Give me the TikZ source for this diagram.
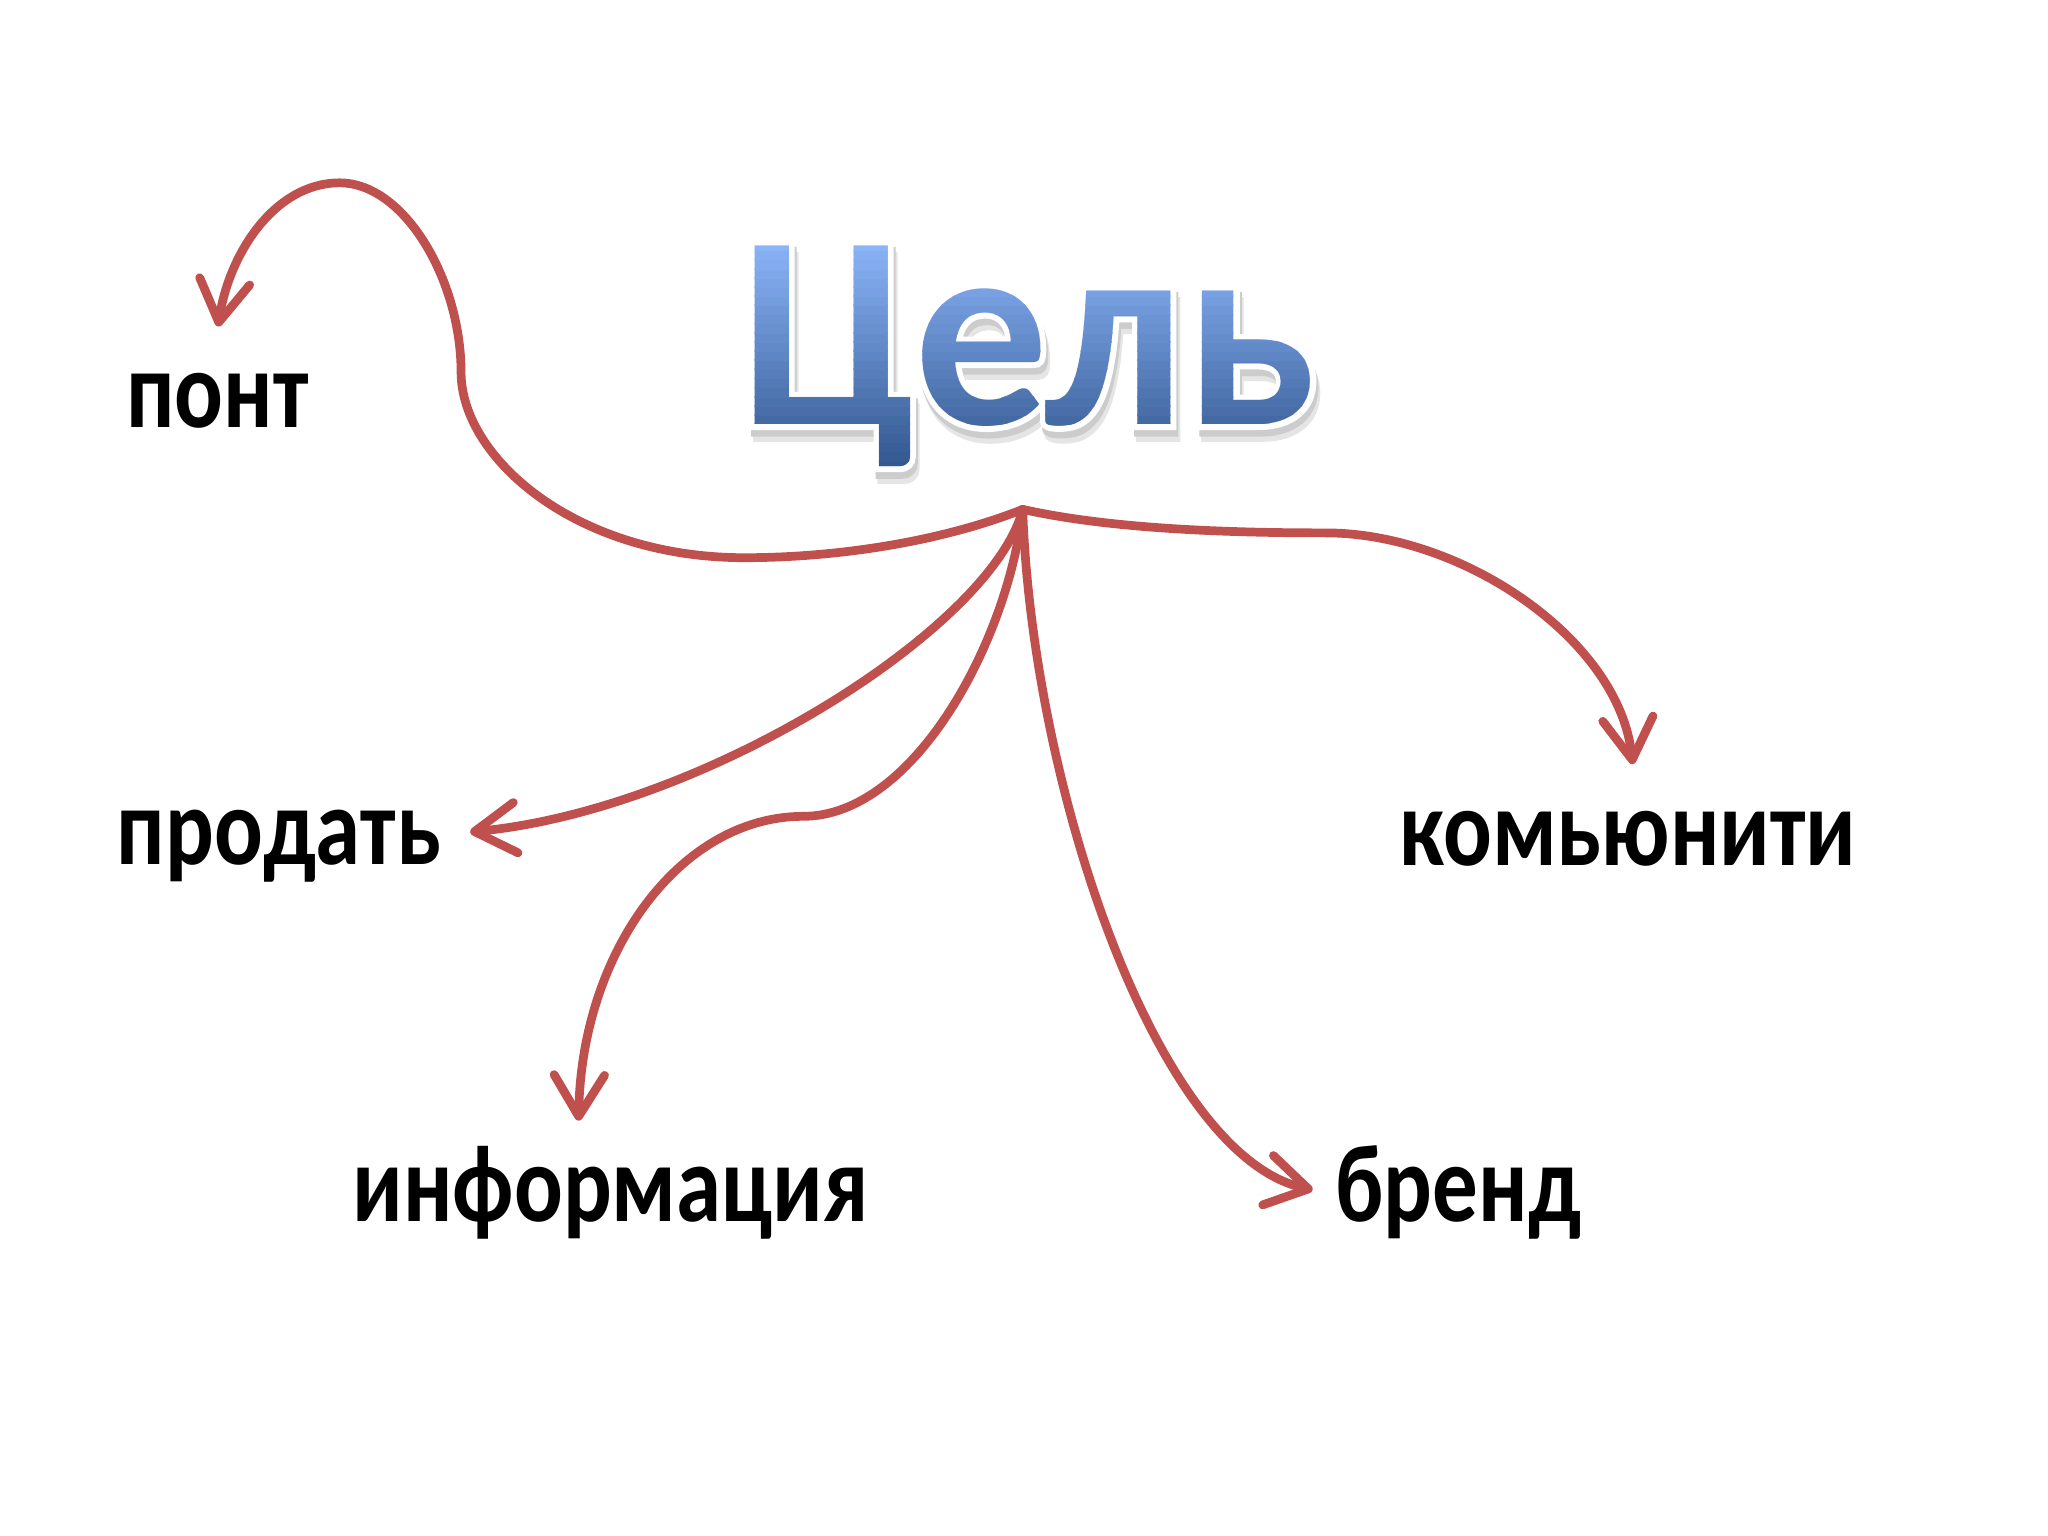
\documentclass[tikz,border=0pt]{standalone}
\usepackage{fontspec}
\setmainfont{Carlito}
\newfontfamily\titlefont{Carlito}[FakeStretch=0.97]
\newfontfamily\titleedge{Carlito}[FakeStretch=0.97, FakeBold=4]
\newfontfamily\wordfont{Carlito}[FakeStretch=0.825]
\usetikzlibrary{arrows.meta}

\definecolor{arrowred}{HTML}{C0504D}
\definecolor{titletop}{HTML}{8AB4F8}
\definecolor{titlebottom}{HTML}{33578F}

\newcommand{\titlesize}{\fontsize{60}{60}\selectfont\bfseries}

\tikzset{
  word/.style={anchor=base, inner sep=0pt, font=\wordfont\fontsize{24}{24}\selectfont\bfseries},
  heading/.style={anchor=base, inner sep=0pt},
  pointer/.style={draw=arrowred, line width=1.9pt, line cap=round, line join=round,
    -{Straight Barb[length=9pt, width=11pt, line cap=round, line join=round]}}
}

\begin{document}
\begin{tikzpicture}
    \useasboundingbox (0,0) rectangle (15.68,-11.76);

    % the title: shadow, white edge, then the blue gradient in thin bands
    \node[heading, text=black!10, font=\titleedge\titlesize] at (7.905,-3.34) {Цель};
    \node[heading, text=black!20, font=\titleedge\titlesize] at (7.89,-3.30) {Цель};
    \node (title) [heading, text=white, font=\titleedge\titlesize] at (7.875,-3.25) {Цель};
    \foreach \k in {0,...,24} {
        \pgfmathtruncatemacro\mixval{100*\k/24}
        \begin{scope}
            \clip (5.4,{-3.60+0.07*\k}) rectangle (10.4,{-3.53+0.07*\k+0.005});
            \node[heading, text=titletop!\mixval!titlebottom, font=\titlefont\titlesize] at (title.base) {Цель};
        \end{scope}
    }

    % the words round it
    \node[word] (pont) at (1.665,-3.27) {понт};
    \node[word] (prodat) at (2.135,-6.62) {продать};
    \node[word] (info) at (4.675,-9.35) {информация};
    \node[word] (brend) at (11.165,-9.35) {бренд};
    \node[word] (komm) at (12.465,-6.63) {комьюнити};

    % where the arrows start and end
    \coordinate (o) at (7.83,-3.90);
    \coordinate (pont-end) at (1.67,-2.50);
    \coordinate (prodat-end) at (3.60,-6.37);
    \coordinate (info-end) at (4.43,-8.58);
    \coordinate (brend-end) at (10.05,-9.11);
    \coordinate (komm-end) at (12.50,-5.85);

    % draw the arrows
    \draw[pointer] (o) .. controls (7.20,-4.15) and (6.40,-4.27) .. (5.70,-4.27)
        .. controls (4.40,-4.27) and (3.53,-3.50) .. (3.53,-2.85)
        .. controls (3.53,-2.15) and (3.10,-1.40) .. (2.60,-1.40)
        .. controls (2.10,-1.40) and (1.75,-1.95) .. (pont-end);
    \draw[pointer] (o) .. controls (7.60,-4.80) and (5.40,-6.20) .. (prodat-end);
    \draw[pointer] (o) .. controls (7.72,-4.90) and (7.00,-6.25) .. (6.15,-6.25)
        .. controls (5.20,-6.25) and (4.45,-7.30) .. (info-end);
    \draw[pointer] (o) .. controls (7.90,-6.00) and (8.85,-8.85) .. (brend-end);
    \draw[pointer] (o) .. controls (8.50,-4.05) and (9.40,-4.08) .. (10.15,-4.08)
        .. controls (11.20,-4.08) and (12.40,-4.90) .. (komm-end);

\end{tikzpicture}
\end{document}
